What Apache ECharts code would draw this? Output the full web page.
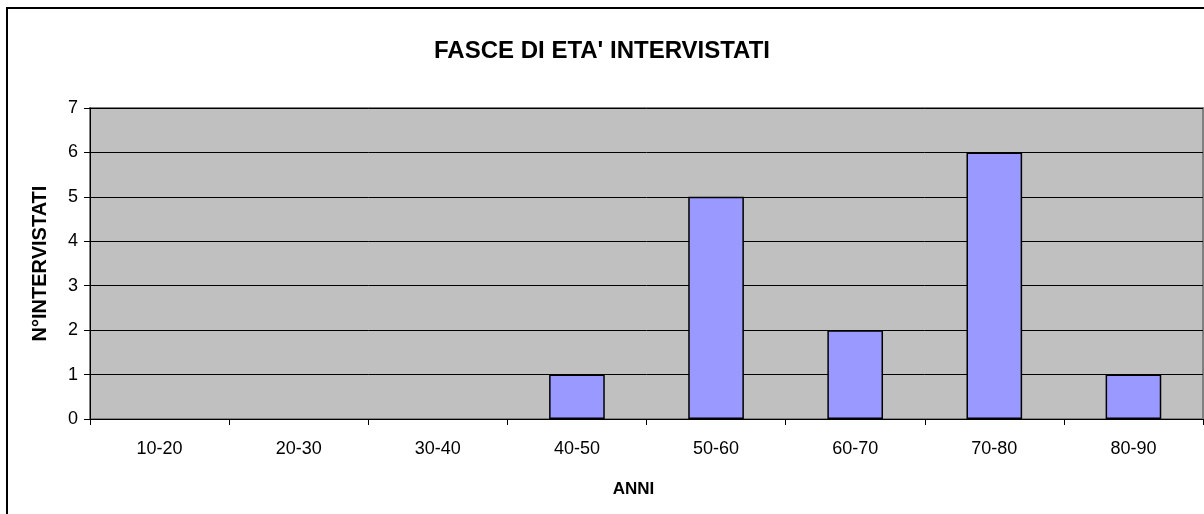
<!DOCTYPE html>
<html>
<head>
<meta charset="utf-8">
<script src="https://cdn.jsdelivr.net/npm/echarts@6/dist/echarts.min.js"></script>
<style>
html,body{margin:0;padding:0;background:#fff;}
#chart{width:1204px;height:514px;}
</style>
</head>
<body>
<div id="chart"></div>
<script>
var titleText = "FASCE DI ETA' INTERVISTATI";
var categories = ['10-20','20-30','30-40','40-50','50-60','60-70','70-80','80-90'];
var values = [0,0,0,1,5,2,6,1];
var yTicks = {min:0, max:7, interval:1};

var font = 'Liberation Sans, Arial, sans-serif';
var myChart = echarts.init(document.getElementById('chart'));
var option = {
	animation: false,
	backgroundColor: '#fff',
	title: {
		text: titleText,
		left: 'center',
		top: 34,
		textStyle: {fontFamily: font, fontSize: 24, fontWeight: 'bold', color: '#000'}
	},
	// bordo esterno
	graphic: [{
		type: 'rect',
		shape: {x: 7, y: 8, width: 1300, height: 600},
		style: {fill: 'none', stroke: '#000', lineWidth: 2},
		silent: true
	}],
	grid: {
		left: 90, right: 1, top: 108, bottom: 95,
		show: true,
		backgroundColor: '#C0C0C0',
		borderColor: '#808080',
		borderWidth: 2
	},
	xAxis: {
		type: 'category',
		data: categories,
		name: 'ANNI',
		nameLocation: 'middle',
		nameGap: 62,
		nameTextStyle: {fontFamily: font, fontSize: 17, fontWeight: 'bold', color: '#000', padding: [0, 26, 0, 0]},
		axisLine: {lineStyle: {color: '#000', width: 1}},
		axisTick: {show: true, length: 6, lineStyle: {color: '#000'}},
		axisLabel: {fontFamily: font, fontSize: 18, color: '#000', margin: 21}
	},
	yAxis: {
		type: 'value',
		min: yTicks.min, max: yTicks.max, interval: yTicks.interval,
		name: 'N°INTERVISTATI',
		nameLocation: 'middle',
		nameGap: 40,
		nameTextStyle: {fontFamily: font, fontSize: 20, fontWeight: 'bold', color: '#000'},
		axisLine: {show: true, lineStyle: {color: '#000', width: 1}},
		axisTick: {show: true, length: 6, lineStyle: {color: '#000'}},
		axisLabel: {fontFamily: font, fontSize: 18, color: '#000', margin: 12},
		splitLine: {show: true, lineStyle: {color: '#000', width: 1}}
	},
	series: [{
		type: 'bar',
		// gli zeri non disegnano nessuna barra
		data: values.map(function(v){ return v === 0 ? '-' : v; }),
		barWidth: '40%',
		itemStyle: {color: '#9999FF', borderColor: '#000', borderWidth: 1.5}
	}]
};
myChart.setOption(option);
</script>
</body>
</html>
